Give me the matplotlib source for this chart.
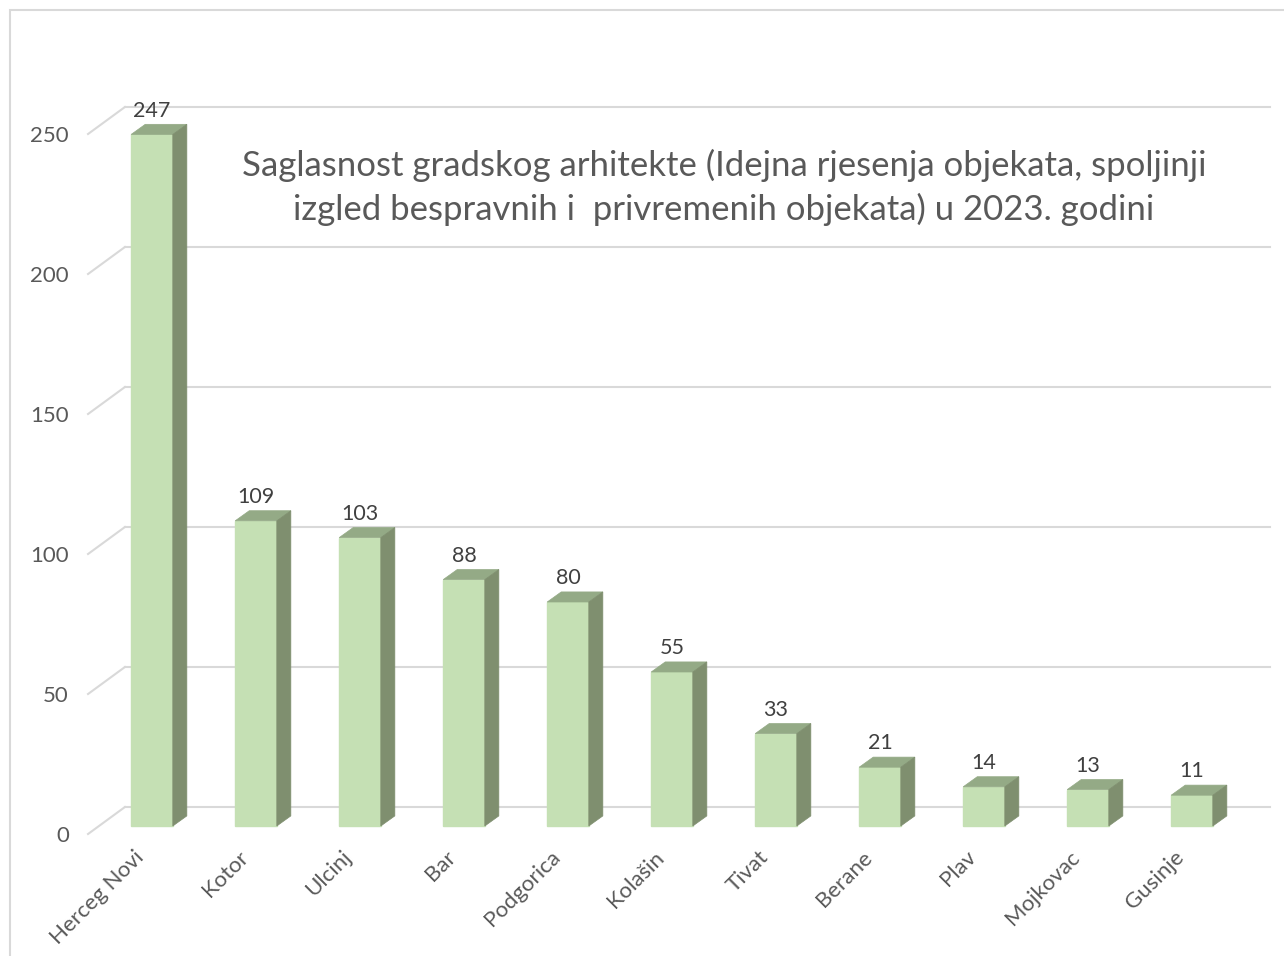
import matplotlib.pyplot as plt
from matplotlib.patches import Polygon, Rectangle

plt.rcParams['font.family'] = ['Lato', 'DejaVu Sans']

gradovi = ["Herceg Novi", "Kotor", "Ulcinj", "Bar", "Podgorica", "Kolašin",
           "Tivat", "Berane", "Plav", "Mojkovac", "Gusinje"]
broj = [247, 109, 103, 88, 80, 55, 33, 21, 14, 13, 11]
y_ticks = [0, 50, 100, 150, 200, 250]
naslov = ("Saglasnost gradskog arhitekte (Idejna rjesenja objekata, spoljinji\n"
          "izgled bespravnih i  privremenih objekata) u 2023. godini")

# boje (Excel 3D stupci)
c_front = "#C5E0B4"
c_top = "#94AA86"
c_side = "#7F8F6F"
c_grid = "#D9D9D9"
c_text = "#595959"

fig = plt.figure(figsize=(12.84, 9.56), dpi=100)
ax = fig.add_axes([0, 0, 1, 1])
# skala: 104 px po kategoriji, 2.8 px po jedinici
ax.set_xlim(-152 / 104, (1284 - 152) / 104)
ax.set_ylim(-130 / 2.8, 826 / 2.8)
ax.axis("off")

# okvir grafikona
fig.patches.append(Rectangle((9.5 / 1284, -0.1), 1.5, 1 - 9.5 / 956 + 0.1,
                             transform=fig.transFigure, fill=False,
                             edgecolor=c_grid, lw=1.5))

w = 0.40        # sirina stupca
dx = 0.135      # dubina stupca (x)
dy = 3.6        # dubina stupca (y)

# mreza na zadnjem zidu + kose linije
for t in y_ticks:
    ax.plot([-0.615, -0.26], [t - 2.86, t + 6.79], color=c_grid, lw=1.5, zorder=1)
    ax.plot([-0.26, 10.75], [t + 6.79, t + 6.79], color=c_grid, lw=1.5, zorder=1)
    ax.text(-0.80, t - 3.6, str(t), ha="right", va="center", fontsize=16, color=c_text)

x = list(range(len(gradovi)))
ax.bar(x, broj, width=w, color=c_front, edgecolor=c_front, zorder=3)
for i, v in zip(x, broj):
    l, r = i - w / 2, i + w / 2
    ax.add_patch(Polygon([(l, v), (r, v), (r + dx, v + dy), (l + dx, v + dy)],
                         closed=True, facecolor=c_top, edgecolor=c_top, lw=0.5, zorder=3))
    ax.add_patch(Polygon([(r, 0), (r + dx, dy), (r + dx, v + dy), (r, v)],
                         closed=True, facecolor=c_side, edgecolor=c_side, lw=0.5, zorder=3))
    ax.text(i, v + 8.5, str(v), ha="center", va="center", fontsize=15.5, color="#404040")
    ax.text(i - 0.04, -7.5, gradovi[i], ha="right", va="top", rotation=45,
            fontsize=16, color=c_text)

ax.text(5.5, 228, naslov, ha="center", va="center", fontsize=25, color=c_text,
        linespacing=1.4)

fig.savefig("out.png", dpi=100)
